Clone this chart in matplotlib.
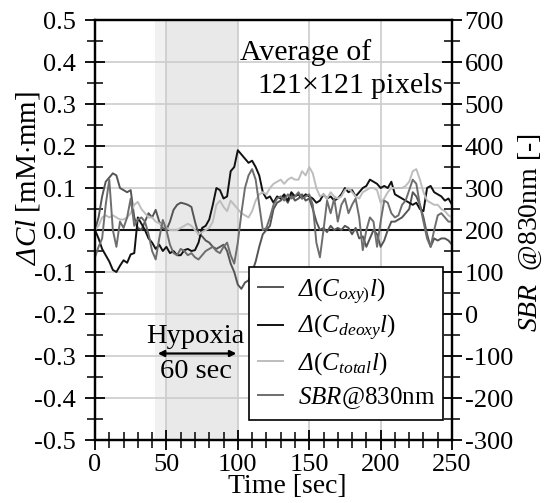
import numpy as np
import matplotlib
matplotlib.use('Agg')
import matplotlib.pyplot as plt
from matplotlib.ticker import MultipleLocator, FormatStrFormatter

plt.rcParams['font.family'] = ['Liberation Serif', 'DejaVu Serif']
plt.rcParams['mathtext.fontset'] = 'custom'
plt.rcParams['mathtext.rm'] = 'Liberation Serif'
plt.rcParams['mathtext.it'] = 'Liberation Serif:italic'
plt.rcParams['mathtext.sf'] = 'Liberation Serif:italic'
plt.rcParams['axes.unicode_minus'] = False

# values every 2.5 sec
dt = 2.5
oxy = [0.0, 0.03, 0.08, 0.115, 0.125, 0.135, 0.13, 0.10, 0.095, 0.09,
       0.095, 0.03, 0.005, 0.0, 0.02, 0.04, 0.03, 0.048, 0.02, 0.005,
       0.0, 0.02, 0.048, 0.06, 0.065, 0.063, 0.06, 0.055, 0.02, -0.01,
       -0.015, -0.025, -0.03, -0.04, -0.045, -0.04, -0.035, -0.05, -0.08, -0.10,
       -0.13, -0.14, -0.125, -0.12, -0.10, -0.075, -0.04, -0.01, 0.0, 0.01,
       0.05, 0.065, 0.07, 0.08, 0.065, 0.085, 0.07, 0.075, 0.085, 0.07,
       0.075, 0.05, 0.02, 0.0, 0.005, -0.005, 0.01, 0.0, 0.005, 0.0,
       0.01, 0.005, -0.01, 0.005, -0.02, -0.015, -0.04, -0.02, 0.0, -0.01,
       -0.04, -0.025, 0.0, 0.02, 0.02, 0.025, 0.03, 0.04, 0.05, 0.09,
       0.08, 0.06, 0.03, -0.01, -0.04, -0.02, -0.025, -0.02, -0.02, -0.025,
       -0.035]
deoxy = [0.00, -0.02, -0.045, -0.06, -0.075, -0.095, -0.10, -0.085, -0.072, -0.078,
         -0.058, -0.055, 0.03, 0.015, 0.0, -0.02, -0.03, -0.045, -0.035, -0.05,
         -0.04, -0.055, -0.05, -0.06, -0.06, -0.048, -0.045, -0.05, -0.048, -0.03,
         0.005, 0.01, 0.025, 0.06, 0.10, 0.095, 0.075, 0.08, 0.14, 0.15,
         0.19, 0.18, 0.17, 0.16, 0.165, 0.15, 0.13, 0.09, 0.075, 0.08,
         0.065, 0.08, 0.075, 0.085, 0.07, 0.09, 0.08, 0.085, 0.075, 0.085,
         0.08, 0.075, 0.065, 0.07, 0.085, 0.075, 0.08, 0.07, 0.075, 0.085,
         0.10, 0.09, 0.095, 0.08, 0.09, 0.10, 0.105, 0.12, 0.115, 0.11,
         0.10, 0.105, 0.10, 0.115, 0.085, 0.08, 0.075, 0.07, 0.065, 0.06,
         0.065, 0.05, 0.045, 0.10, 0.105, 0.09, 0.085, 0.08, 0.07, 0.075,
         0.06]
total = [0.0, 0.01, 0.03, 0.035, 0.03, 0.035, 0.03, 0.025, 0.025, 0.03,
         0.04, 0.06, 0.067, 0.05, 0.04, 0.03, 0.03, 0.02, 0.016, 0.01,
         0.005, 0.0, 0.0, 0.0, 0.005, 0.01, 0.015, 0.01, 0.0, -0.01,
         -0.005, 0.0, 0.005, 0.02, 0.06, 0.07, 0.055, 0.045, 0.07, 0.06,
         0.05, 0.04, 0.035, 0.03, 0.045, 0.07, 0.085, 0.09, 0.085, 0.10,
         0.11, 0.115, 0.12, 0.11, 0.12, 0.125, 0.12, 0.12, 0.14, 0.13,
         0.15, 0.135, 0.10, 0.08, 0.085, 0.075, 0.09, 0.08, 0.075, 0.08,
         0.095, 0.10, 0.09, 0.08, 0.075, 0.09, 0.095, 0.10, 0.10, 0.095,
         0.065, 0.075, 0.09, 0.10, 0.10, 0.10, 0.10, 0.105, 0.115, 0.14,
         0.145, 0.12, 0.09, 0.07, 0.065, 0.06, 0.06, 0.05, 0.045, 0.035,
         0.03]
sbr = [135, 160, 180, 260, 320, 200, 160, 220, 205, 230,
       275, 210, 225, 230, 220, 190, 150, 130, 180, 224,
       200, 165, 145, 140, 155, 150, 140, 145, 135, 130,
       140, 150, 155, 160, 150, 145, 160, 170, 140, 120,
       170, 240, 300, 330, 345, 320, 260, 200, 205, 230,
       260, 275, 280, 270, 285, 275, 280, 290, 275, 280,
       285, 260, 170, 135, 200, 270, 240, 275, 220, 260,
       275, 240, 260, 275, 230, 152, 200, 230, 220, 160,
       220, 270, 265, 240, 230, 235, 260, 270, 295, 320,
       310, 260, 220, 180, 160, 200, 235, 240, 230, 220,
       220]

t = np.arange(len(oxy)) * dt

fig = plt.figure(figsize=(5.51, 5.03), dpi=100)
ax = fig.add_axes([0.1724, 0.1252, 0.648, 0.835])
ax2 = ax.twinx()

# hypoxia period
ax.axvspan(42, 50, color='#f1f1f1', lw=0, zorder=0)
ax.axvspan(50, 100, color='#e9e9e9', lw=0, zorder=0)

ax.grid(True, which='major', color='#cccccc', lw=1.2, zorder=1)
ax.axhline(0, color='#111111', lw=1.5, zorder=2)

l1, = ax.plot(t, oxy, color='#555555', lw=1.4, zorder=3)
l2, = ax.plot(t, deoxy, color='#111111', lw=1.4, zorder=3)
l3, = ax.plot(t, total, color='#bdbdbd', lw=1.4, zorder=3)
l4, = ax2.plot(t, sbr, color='#6e6e6e', lw=1.4)

ax.set_xlim(0, 250)
ax.set_ylim(-0.5, 0.5)
ax2.set_ylim(-300, 700)
ax.xaxis.set_major_locator(MultipleLocator(50))
ax.xaxis.set_minor_locator(MultipleLocator(10))
ax.yaxis.set_major_locator(MultipleLocator(0.1))
ax.yaxis.set_minor_locator(MultipleLocator(0.05))
ax2.yaxis.set_major_locator(MultipleLocator(100))
ax2.yaxis.set_minor_locator(MultipleLocator(50))
ax.yaxis.set_major_formatter(FormatStrFormatter('%.1f'))

for a in (ax, ax2):
    a.tick_params(which='major', direction='inout', length=14, width=1.3,
                  labelsize=19, color='black')
    a.tick_params(which='minor', direction='inout', length=11, width=1.1,
                  color='black')
    for s in a.spines.values():
        s.set_linewidth(1.6)
ax.tick_params(axis='x', which='major', pad=3)
ax.tick_params(axis='y', which='major', pad=7)
ax2.tick_params(axis='y', which='major', pad=2)

ax.set_xlabel('Time [sec]', fontsize=20)
ax.xaxis.set_label_coords(0.538, -0.081)
ax.set_ylabel(r'$\mathsf{\Delta}Cl$ [mM$\cdot$mm]', fontsize=21)
ax.yaxis.set_label_coords(-0.148, 0.624)
ax2.set_ylabel(r'$SBR$  @830nm [-]', fontsize=20, rotation=90)
ax2.yaxis.set_label_coords(1.182, 0.495)

ax.text(101.5, 0.405, 'Average of', fontsize=21.5, zorder=5)
ax.text(113.4, 0.326, r'121$\times$121 pixels', fontsize=21.5, zorder=5)
ax.text(36, -0.269, 'Hypoxia', fontsize=20.5, zorder=5)
ax.annotate('', xy=(44, -0.294), xytext=(99, -0.294),
            arrowprops=dict(arrowstyle='<|-|>', color='black', lw=1.6,
                            mutation_scale=9, shrinkA=0, shrinkB=0), zorder=5)
ax.text(71, -0.352, '60 sec', fontsize=20.5, ha='center', zorder=5)

labels = [r'$\mathsf{\Delta}(C_{oxy)}l)$', r'$\mathsf{\Delta}(C_{deoxy}l)$',
          r'$\mathsf{\Delta}(C_{total}l)$', r'$SBR$@830nm']
leg = ax2.legend([l1, l2, l3, l4], labels, loc='upper right',
                 bbox_to_anchor=(0.976, 0.411), fontsize=18, fancybox=False,
                 framealpha=1, edgecolor='black', handlelength=1.0,
                 handletextpad=0.6, borderpad=0.35, labelspacing=0.3,
                 borderaxespad=0)
leg.get_frame().set_linewidth(1.2)

fig.savefig('out.png', dpi=100)
